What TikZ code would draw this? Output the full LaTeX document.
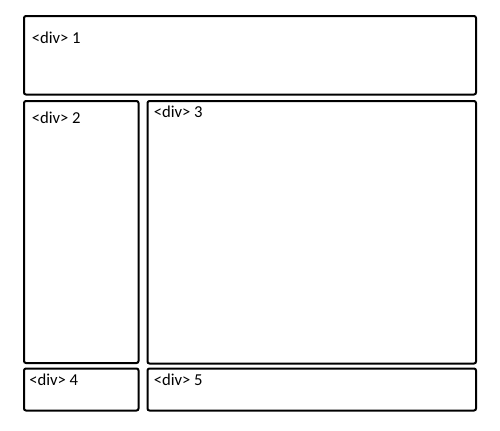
\documentclass[tikz,border=0pt]{standalone}
\usepackage{fontspec}
\setmainfont{Carlito}
\usetikzlibrary{positioning}

\tikzset{
  divbox/.style={line width=1.5pt, rounded corners=1.5pt},
  divlabel/.style={anchor=base west, inner sep=0pt, font=\fontsize{12.5}{15}\selectfont}
}

\begin{document}
\begin{tikzpicture}[x=0.75pt,y=-0.75pt]
			\useasboundingbox (0,0) rectangle (500,430);
			
			\draw[divbox] (24,16) rectangle (476,94.5);
			\draw[divbox] (24,101) rectangle (138.5,363);
			\draw[divbox] (147.5,101) rectangle (476,363.5);
			\draw[divbox] (24,368.5) rectangle (138.5,410.5);
			\draw[divbox] (147.5,368.5) rectangle (476,410.5);
			
			\node[divlabel] (div1) at (31.5,43) {<div> 1};
			\node[divlabel] (div2) at (31.5,123) {<div> 2};
			\node[divlabel] (div3) at (153.5,117.5) {<div> 3};
			\node[divlabel] (div4) at (29,385) {<div> 4};
			\node[divlabel] (div5) at (153.5,385) {<div> 5};
		\end{tikzpicture}
\end{document}
